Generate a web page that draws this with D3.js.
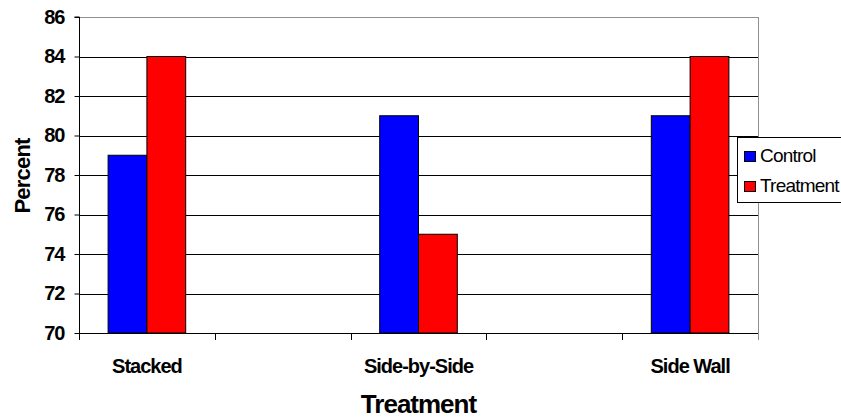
<!DOCTYPE html>
<html><head><meta charset="utf-8">
<script src="https://cdn.jsdelivr.net/npm/d3@7"></script>
<style>
body{margin:0;background:#fff;}
text{font-family:"Liberation Sans",Arial,sans-serif;}
</style></head>
<body><svg id="c" width="841" height="420"></svg>
<script>
const xLabels = ["Stacked", "", "Side-by-Side", "", "Side Wall"];
const seriesNames = ["Control", "Treatment"];
const controlValues = [79, null, 81, null, 81];
const treatmentValues = [84, null, 75, null, 84];
const seriesColors = ["#0000ff", "#ff0000"];
const yTicks = [70, 72, 74, 76, 78, 80, 82, 84, 86];
const xTitle = "Treatment";
const yTitle = "Percent";

const svg = d3.select("#c");
const L = 79, R = 758, T = 17, B = 333;
const FF = "Liberation Sans, Arial, sans-serif";

const x = d3.scaleBand().domain(d3.range(xLabels.length)).range([L, R]).paddingInner(0).paddingOuter(0);
const bw = x.bandwidth();
const gap = bw * 1.5 / 3.5;
const x1 = d3.scaleBand().domain(seriesNames).range([gap / 2, bw - gap / 2]);
const y = d3.scaleLinear().domain([70, 86]).range([B, T]);

// plot border (top/right gray)
svg.append("line").attr("x1", L).attr("x2", R).attr("y1", T + 0.5).attr("y2", T + 0.5).attr("stroke", "#909090");
svg.append("line").attr("x1", R + 0.5).attr("x2", R + 0.5).attr("y1", T).attr("y2", B + 7).attr("stroke", "#909090");

// gridlines
svg.append("g").selectAll("line").data(yTicks.filter(v => v > 70 && v < 86)).join("line")
  .attr("x1", L).attr("x2", R)
  .attr("y1", d => Math.round(y(d)) + 0.5).attr("y2", d => Math.round(y(d)) + 0.5)
  .attr("stroke", "#000").attr("stroke-width", 1);

// bars
const rows = xLabels.map((c, i) => ({i, vals: [controlValues[i], treatmentValues[i]]}));
const g = svg.append("g");
rows.forEach(r => {
  r.vals.forEach((v, k) => {
    if (v == null) return;
    g.append("rect")
      .attr("x", x(r.i) + x1(seriesNames[k]))
      .attr("y", y(v))
      .attr("width", x1.bandwidth())
      .attr("height", y(70) - y(v))
      .attr("fill", seriesColors[k])
      .attr("stroke", "#000").attr("stroke-width", 1);
  });
});

// y axis
const yAxis = d3.axisLeft(y).tickValues(yTicks).tickSize(5).tickPadding(10);
const ya = svg.append("g").attr("transform", `translate(${L + 0.5},0)`).call(yAxis);
ya.select(".domain").attr("stroke", "#000").attr("d", `M-5,${y(86)}H0V${y(70)}`);
ya.selectAll(".tick line").attr("stroke", "#000");
ya.selectAll(".tick text").attr("font-size", 20).attr("font-weight", "bold").attr("fill", "#000")
  .attr("letter-spacing", -1).attr("font-family", FF);

// x axis
const xAxis = d3.axisBottom(x).tickFormat(i => xLabels[i]).tickSize(0).tickPadding(25);
const xa = svg.append("g").attr("transform", `translate(0,${B + 0.5})`).call(xAxis);
xa.select(".domain").attr("stroke", "#000").attr("d", `M${L},0H${R}`);
xa.selectAll(".tick text").attr("font-size", 20).attr("font-weight", "bold").attr("fill", "#000")
  .attr("letter-spacing", -1).attr("font-family", FF);
const bounds = d3.range(xLabels.length + 1).map(i => L + i * x.step());
svg.append("g").selectAll("line").data(bounds).join("line")
  .attr("x1", d => Math.round(d) + 0.5).attr("x2", d => Math.round(d) + 0.5)
  .attr("y1", B).attr("y2", B + 7)
  .attr("stroke", (d, i) => i === bounds.length - 1 ? "#909090" : "#000");

// titles
svg.append("text").attr("x", (L + R) / 2).attr("y", 413).attr("text-anchor", "middle")
  .attr("font-size", 26).attr("font-weight", "bold").attr("letter-spacing", -1).text(xTitle);
svg.append("text").attr("transform", "translate(30,176) rotate(-90)").attr("text-anchor", "middle")
  .attr("font-size", 22).attr("font-weight", "bold").attr("letter-spacing", -0.8).text(yTitle);

// legend
const lg = svg.append("g");
lg.append("rect").attr("x", 737.5).attr("y", 137.5).attr("width", 120).attr("height", 65)
  .attr("fill", "#fff").attr("stroke", "#000");
seriesNames.forEach((s, k) => {
  const yy = 151 + k * 30;
  lg.append("rect").attr("x", 744.5).attr("y", yy + 0.5).attr("width", 11).attr("height", 10)
    .attr("fill", seriesColors[k]).attr("stroke", "#000");
  lg.append("text").attr("x", 760).attr("y", yy + 11).attr("font-size", 19)
    .attr("letter-spacing", -0.8).text(s);
});
</script></body></html>
